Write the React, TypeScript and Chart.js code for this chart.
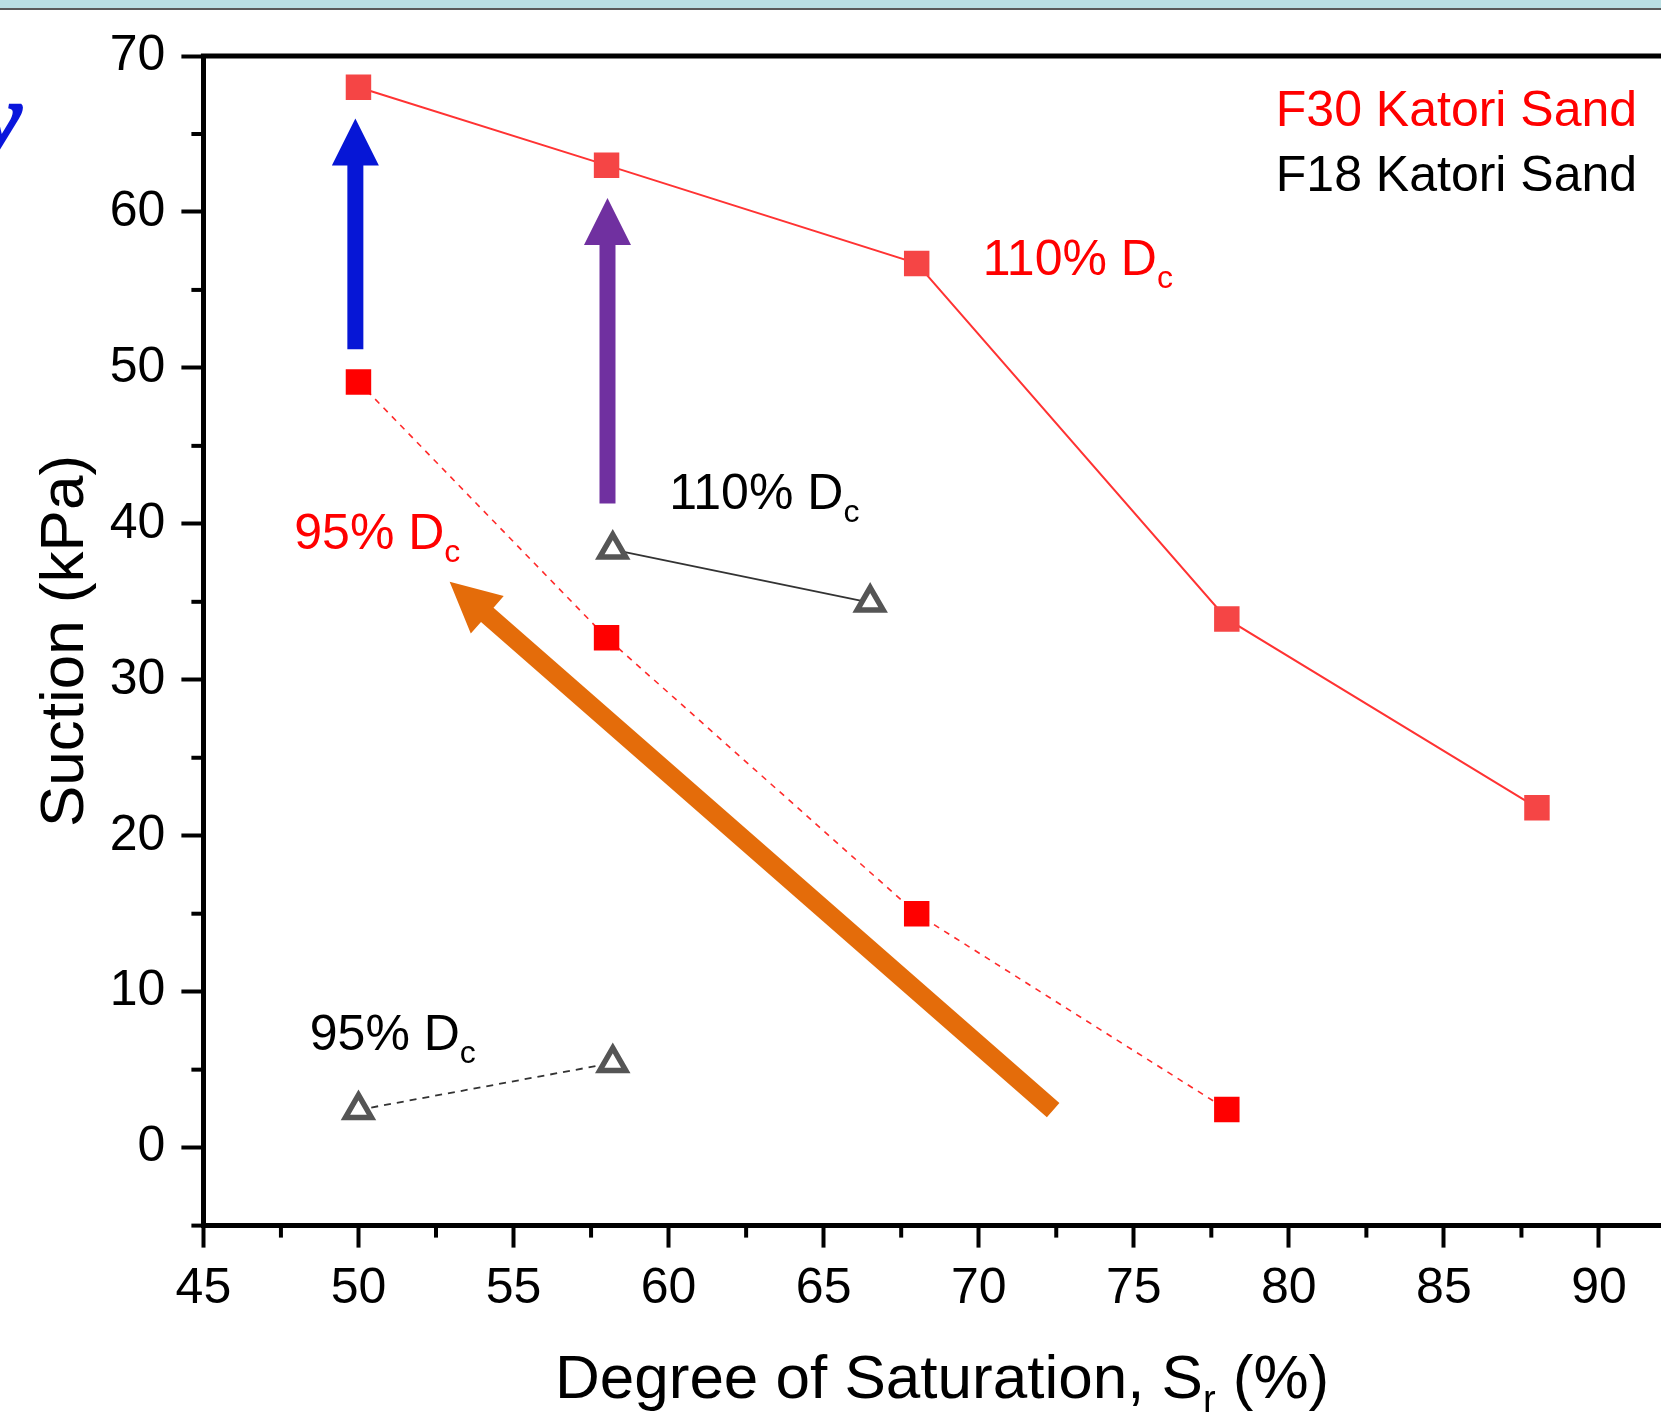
import { useEffect, useRef } from "react";
import { Chart, registerables } from "chart.js";

Chart.register(...registerables);

// ---------- data ----------
const f30Dense_Sr = [50, 58, 68, 78, 88];
const f30Dense_suction = [68.0, 63.0, 56.7, 33.9, 21.8];

const f30Loose_Sr = [50, 58, 68, 78];
const f30Loose_suction = [49.1, 32.7, 15.0, 2.45];

const f18Dense_Sr = [58.2, 66.5];
const f18Dense_suction = [38.35, 34.95];

const f18Loose_Sr = [50.0, 58.2];
const f18Loose_suction = [2.42, 5.43];

const xMajorStep = 5;
const yMajorStep = 10;
const xMinorTicks = [47.5, 52.5, 57.5, 62.5, 67.5, 72.5, 77.5, 82.5, 87.5];
const yMinorTicks = [-5, 5, 15, 25, 35, 45, 55, 65];

// ---------- annotations (data coordinates) ----------
const arrowsCfg = [
  { from: [49.9, 51.2], to: [49.9, 66.0], color: "#0616d6", shaft: 16, headW: 47, headL: 47 },
  { from: [58.03, 41.3], to: [58.03, 60.9], color: "#7030a0", shaft: 16, headW: 47, headL: 47 },
  { from: [72.4, 2.4], to: [52.94, 36.28], color: "#e46c0a", shaft: 19, headW: 50, headL: 50 },
];

const subLabels = [
  { text: "110% D", sub: "c", x: 70.13, y: 55.95, color: "#ff0000" },
  { text: "110% D", sub: "c", x: 60.02, y: 40.94, color: "#000000" },
  { text: "95% D", sub: "c", x: 47.93, y: 38.39, color: "#ff0000" },
  { text: "95% D", sub: "c", x: 48.43, y: 6.23, color: "#000000" },
];

const legendTexts = [
  { text: "F30 Katori Sand", x: 91.23, y: 65.5, color: "#ff0000" },
  { text: "F18 Katori Sand", x: 91.23, y: 61.33, color: "#000000" },
];

const FONT = '"Liberation Sans", Arial, sans-serif';

function toPoints(xs: number[], ys: number[]) {
  return xs.map((x, i) => ({ x, y: ys[i] }));
}

function drawArrow(ctx: CanvasRenderingContext2D, x1: number, y1: number, x2: number, y2: number, w: number, hw: number, hl: number, color: string) {
  const dx = x2 - x1, dy = y2 - y1;
  const len = Math.hypot(dx, dy);
  const ux = dx / len, uy = dy / len;
  const nx = -uy, ny = ux;
  const bx = x2 - ux * hl, by = y2 - uy * hl;
  ctx.beginPath();
  ctx.moveTo(x1 + nx * w / 2, y1 + ny * w / 2);
  ctx.lineTo(bx + nx * w / 2, by + ny * w / 2);
  ctx.lineTo(bx + nx * hw / 2, by + ny * hw / 2);
  ctx.lineTo(x2, y2);
  ctx.lineTo(bx - nx * hw / 2, by - ny * hw / 2);
  ctx.lineTo(bx - nx * w / 2, by - ny * w / 2);
  ctx.lineTo(x1 - nx * w / 2, y1 - ny * w / 2);
  ctx.closePath();
  ctx.fillStyle = color;
  ctx.fill();
}

const decorPlugin = {
  id: "decor",
  beforeDraw(chart: any) {
    const ctx: CanvasRenderingContext2D = chart.ctx;
    const W = chart.width, H = chart.height;
    ctx.save();
    ctx.fillStyle = "#ffffff";
    ctx.fillRect(0, 0, W, H);
    ctx.fillStyle = "#b9dfe3";
    ctx.fillRect(0, 0, W, 8);
    ctx.fillStyle = "#5a5a5a";
    ctx.fillRect(0, 8, W, 2);
    // cut-off blue glyph at the far left
    ctx.font = 'bold italic 100px "Liberation Serif", "DejaVu Serif", serif';
    ctx.fillStyle = "#0a16dc";
    ctx.strokeStyle = "#0a16dc";
    ctx.lineWidth = 1.5;
    ctx.textAlign = "right";
    ctx.textBaseline = "alphabetic";
    ctx.fillText("y", 22, 151);
    ctx.strokeText("y", 22, 151);
    ctx.restore();
  },
  afterDatasetsDraw(chart: any) {
    const ctx: CanvasRenderingContext2D = chart.ctx;
    const xs = chart.scales.x, ys = chart.scales.y;
    const px = (v: number) => xs.getPixelForValue(v);
    const py = (v: number) => ys.getPixelForValue(v);
    ctx.save();
    for (const a of arrowsCfg) {
      drawArrow(ctx, px(a.from[0]), py(a.from[1]), px(a.to[0]), py(a.to[1]), a.shaft, a.headW, a.headL, a.color);
    }
    ctx.textBaseline = "alphabetic";
    ctx.textAlign = "left";
    for (const l of subLabels) {
      const x = px(l.x), y = py(l.y);
      ctx.fillStyle = l.color;
      ctx.font = `50px ${FONT}`;
      ctx.fillText(l.text, x, y);
      const w = ctx.measureText(l.text).width;
      ctx.font = `32px ${FONT}`;
      ctx.fillText(l.sub, x + w, y + 13);
    }
    ctx.textAlign = "right";
    ctx.font = `50px ${FONT}`;
    for (const t of legendTexts) {
      ctx.fillStyle = t.color;
      ctx.fillText(t.text, px(t.x), py(t.y));
    }
    ctx.restore();
  },
  afterDraw(chart: any) {
    const ctx: CanvasRenderingContext2D = chart.ctx;
    const ca = chart.chartArea;
    const xs = chart.scales.x, ys = chart.scales.y;
    ctx.save();
    ctx.strokeStyle = "#000";
    // top frame line
    ctx.lineWidth = 5;
    ctx.beginPath();
    ctx.moveTo(ca.left - 2.5, ca.top);
    ctx.lineTo(chart.width, ca.top);
    ctx.stroke();
    // minor ticks
    ctx.lineWidth = 4;
    for (const v of yMinorTicks) {
      const y = ys.getPixelForValue(v);
      ctx.beginPath();
      ctx.moveTo(ca.left, y);
      ctx.lineTo(ca.left - 12, y);
      ctx.stroke();
    }
    for (const v of xMinorTicks) {
      const x = xs.getPixelForValue(v);
      ctx.beginPath();
      ctx.moveTo(x, ca.bottom);
      ctx.lineTo(x, ca.bottom + 12);
      ctx.stroke();
    }
    // axis titles
    ctx.fillStyle = "#000";
    ctx.textBaseline = "alphabetic";
    ctx.textAlign = "left";
    const tx = 555, ty = 1398;
    ctx.font = `62px ${FONT}`;
    const part1 = "Degree of Saturation, S";
    ctx.fillText(part1, tx, ty);
    let cx = tx + ctx.measureText(part1).width;
    ctx.font = `38px ${FONT}`;
    ctx.fillText("r", cx, ty + 14);
    cx += ctx.measureText("r").width;
    ctx.font = `62px ${FONT}`;
    ctx.fillText(" (%)", cx, ty);

    ctx.translate(83, 641);
    ctx.rotate(-Math.PI / 2);
    ctx.textAlign = "center";
    ctx.fillText("Suction (kPa)", 0, 0);
    ctx.restore();
  },
};

export default function App() {
  const ref = useRef<HTMLCanvasElement | null>(null);
  useEffect(() => {
    if (!ref.current) return;
    const chart = new Chart(ref.current, {
      type: "scatter",
      data: {
        datasets: [
          {
            label: "F30 95% Dc",
            data: toPoints(f30Loose_Sr, f30Loose_suction),
            showLine: true,
            borderColor: "#ff2a2a",
            borderWidth: 1.6,
            borderDash: [6, 6],
            pointStyle: "rect",
            pointRadius: 18,
            pointBorderWidth: 0,
            pointBackgroundColor: "#ff0000",
            pointBorderColor: "#ff0000",
          },
          {
            label: "F30 110% Dc",
            data: toPoints(f30Dense_Sr, f30Dense_suction),
            showLine: true,
            borderColor: "#ff3333",
            borderWidth: 2,
            pointStyle: "rect",
            pointRadius: 18,
            pointBorderWidth: 0,
            pointBackgroundColor: "#f54545",
            pointBorderColor: "#f54545",
          },
          {
            label: "F18 110% Dc",
            data: toPoints(f18Dense_Sr, f18Dense_suction),
            showLine: true,
            borderColor: "#333333",
            borderWidth: 1.8,
            pointStyle: "triangle",
            pointRadius: 15,
            pointBorderWidth: 5.5,
            pointBackgroundColor: "#ffffff",
            pointBorderColor: "#555555",
          },
          {
            label: "F18 95% Dc",
            data: toPoints(f18Loose_Sr, f18Loose_suction),
            showLine: true,
            borderColor: "#333333",
            borderWidth: 1.8,
            borderDash: [7, 6],
            pointStyle: "triangle",
            pointRadius: 15,
            pointBorderWidth: 5.5,
            pointBackgroundColor: "#ffffff",
            pointBorderColor: "#555555",
          },
        ],
      },
      options: {
        responsive: false,
        animation: false,
        devicePixelRatio: 1,
        events: [],
        layout: { autoPadding: false, padding: { top: 56, right: 0, left: 0, bottom: 0 } },
        plugins: {
          legend: { display: false },
          tooltip: { enabled: false },
          title: { display: false },
        },
        scales: {
          x: {
            type: "linear",
            min: 45,
            max: 92,
            afterFit: (s: any) => {
              s.height = 186.4;
            },
            ticks: {
              stepSize: xMajorStep,
              includeBounds: false,
              autoSkip: false,
              maxRotation: 0,
              color: "#000",
              padding: 12,
              font: { size: 50, family: FONT },
            },
            grid: {
              drawOnChartArea: false,
              drawTicks: true,
              tickLength: 22,
              tickWidth: 4,
              tickColor: "#000",
            },
            border: { display: true, color: "#000", width: 5 },
            title: { display: false },
          },
          y: {
            type: "linear",
            min: -5,
            max: 70,
            afterFit: (s: any) => {
              s.width = 203.4;
            },
            ticks: {
              stepSize: yMajorStep,
              includeBounds: false,
              autoSkip: false,
              color: "#000",
              padding: 16,
              font: { size: 50, family: FONT },
            },
            grid: {
              drawOnChartArea: false,
              drawTicks: true,
              tickLength: 22,
              tickWidth: 4,
              tickColor: "#000",
            },
            border: { display: true, color: "#000", width: 5 },
            title: { display: false },
          },
        },
      },
      plugins: [decorPlugin],
    });
    return () => chart.destroy();
  }, []);

  return (
    <div style={{ position: "absolute", left: 0, top: 0, width: 1661, height: 1412, overflow: "hidden", background: "#fff" }}>
      <canvas ref={ref} width={1661} height={1412} style={{ display: "block", width: 1661, height: 1412 }} />
    </div>
  );
}
